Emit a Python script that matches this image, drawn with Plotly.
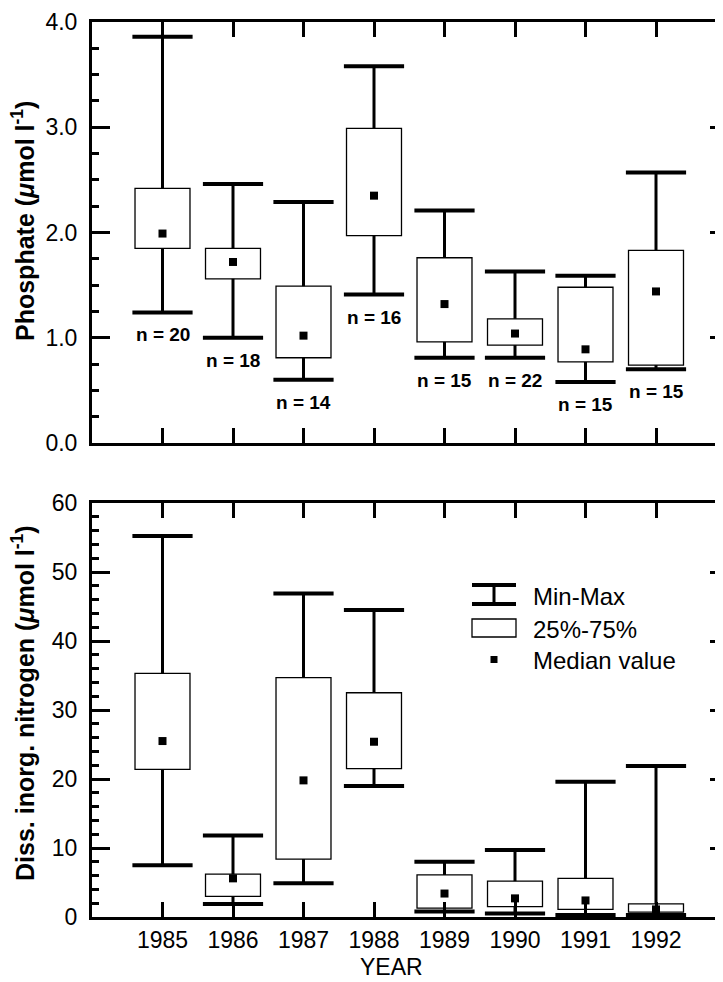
import plotly.graph_objects as go

# ---------------- data ----------------
years = [1985, 1986, 1987, 1988, 1989, 1990, 1991, 1992]

po4_min = [1.24, 1.00, 0.60, 1.41, 0.81, 0.81, 0.58, 0.70]
po4_q1 = [1.85, 1.56, 0.81, 1.97, 0.96, 0.93, 0.77, 0.74]
po4_med = [1.99, 1.72, 1.02, 2.35, 1.32, 1.04, 0.89, 1.44]
po4_q3 = [2.42, 1.85, 1.49, 2.99, 1.76, 1.18, 1.48, 1.83]
po4_max = [3.86, 2.46, 2.29, 3.58, 2.21, 1.63, 1.59, 2.57]
po4_n = [20, 18, 14, 16, 15, 22, 15, 15]

din_min = [7.5, 1.9, 4.9, 19.0, 0.8, 0.5, 0.3, 0.3]
din_q1 = [21.4, 3.0, 8.4, 21.5, 1.3, 1.5, 1.1, 0.7]
din_med = [25.5, 5.6, 19.8, 25.4, 3.4, 2.7, 2.4, 1.1]
din_q3 = [35.3, 6.2, 34.7, 32.5, 6.1, 5.2, 5.6, 1.9]
din_max = [55.2, 11.8, 46.9, 44.5, 8.0, 9.7, 19.6, 21.9]

year_labels = [str(y) for y in years]
legend_labels = ["Min-Max", "25%-75%", "Median value"]

# ---------------- layout geometry (page pixels) ----------------
OFF = 8                      # default body margin of the html page
W, H = 723 - OFF, 982
PL, PR, PT, PB = 92, 723, 22, 917   # plot area in page pixels


def px_x(px):
    return (px - PL) / (PR - PL)


def px_y(py):
    return (PB - py) / (PB - PT)


FONT = "Liberation Sans, Arial, Helvetica, sans-serif"
BOX_W = 0.78
CAP_PX = 43

fig = go.Figure()


def add_panel(xa, ya, mn, q1, med, q3, mx):
    # boxes (25%-75%)
    fig.add_trace(go.Bar(
        x=years, y=[b - a for a, b in zip(q1, q3)], base=q1, width=BOX_W,
        marker=dict(color="white", line=dict(color="black", width=1.3)),
        xaxis=xa, yaxis=ya, hoverinfo="skip", showlegend=False))
    # whiskers
    wx, wy = [], []
    for yr, a, b, c, d in zip(years, mn, q1, q3, mx):
        wx += [yr, yr, None, yr, yr, None]
        wy += [c, d, None, b, a, None]
    fig.add_trace(go.Scatter(
        x=wx, y=wy, mode="lines", line=dict(color="black", width=3),
        xaxis=xa, yaxis=ya, hoverinfo="skip", showlegend=False))
    # caps
    fig.add_trace(go.Scatter(
        x=years + years, y=mn + mx, mode="markers",
        marker=dict(symbol="line-ew", size=CAP_PX, line=dict(color="black", width=4)),
        xaxis=xa, yaxis=ya, hoverinfo="skip", showlegend=False))
    # medians
    fig.add_trace(go.Scatter(
        x=years, y=med, mode="markers",
        marker=dict(symbol="square", size=8, color="black", line=dict(width=0)),
        xaxis=xa, yaxis=ya, hoverinfo="skip", showlegend=False))


add_panel("x", "y", po4_min, po4_q1, po4_med, po4_q3, po4_max)
add_panel("x2", "y2", din_min, din_q1, din_med, din_q3, din_max)

# invisible traces to carry the right-hand tick axes
fig.add_trace(go.Scatter(x=[years[0]], y=[0], mode="markers", marker=dict(opacity=0),
                         xaxis="x", yaxis="y3", hoverinfo="skip", showlegend=False))
fig.add_trace(go.Scatter(x=[years[0]], y=[0], mode="markers", marker=dict(opacity=0),
                         xaxis="x2", yaxis="y4", hoverinfo="skip", showlegend=False))

xrange = [1984, 1984 + (PR - PL) / 70.5]
top_dom = [px_y(443), 1.0]
bot_dom = [0.0, px_y(503)]

common_x = dict(range=xrange, showline=True, linewidth=3, linecolor="black",
                mirror="ticks", ticks="inside", ticklen=15, tickwidth=3, tickcolor="black",
                tickvals=years, showgrid=False, zeroline=False, domain=[0, 1],
                tickfont=dict(family=FONT, size=23, color="black"))
common_y = dict(showline=True, linewidth=3, linecolor="black", mirror=False,
                ticks="inside", ticklen=18, tickwidth=3, tickcolor="black",
                showgrid=False, zeroline=False, ticklabelstandoff=7,
                tickfont=dict(family=FONT, size=23, color="black"))
right_y = dict(side="right", showline=False, ticks="inside", ticklen=13, tickwidth=3,
               tickcolor="black", showticklabels=False, showgrid=False, zeroline=False)

fig.update_layout(
    width=W, height=H,
    margin=dict(l=PL - OFF, r=W - (PR - OFF), t=PT - OFF, b=H - (PB - OFF), pad=0),
    paper_bgcolor="white", plot_bgcolor="white",
    showlegend=False, barmode="overlay",
    xaxis=dict(**common_x, anchor="y", showticklabels=False),
    xaxis2=dict(**common_x, anchor="y2", ticktext=year_labels),
    yaxis=dict(**common_y, domain=top_dom, anchor="x", range=[0, 4], dtick=1,
               tickformat=".1f",
               minor=dict(ticks="inside", ticklen=7, tickwidth=3, tickcolor="black", dtick=0.25)),
    yaxis2=dict(**common_y, domain=bot_dom, anchor="x2", range=[0, 60], dtick=10,
                minor=dict(ticks="inside", ticklen=7, tickwidth=3, tickcolor="black", dtick=2)),
    yaxis3=dict(**right_y, overlaying="y", anchor="x", range=[0, 4], dtick=1),
    yaxis4=dict(**right_y, overlaying="y2", anchor="x2", range=[0, 60], dtick=10),
)

# n labels under the minimum caps
for yr, mn, n in zip(years, po4_min, po4_n):
    fig.add_annotation(x=yr, y=mn, xref="x", yref="y", text=f"n = {n}",
                       showarrow=False, yanchor="top", yshift=-10,
                       font=dict(family=FONT, size=19, color="black", weight="bold"))

# axis titles
fig.add_annotation(x=px_x(23), y=px_y(221), xref="paper", yref="paper",
                   text="Phosphate (<i>μ</i>mol l<sup>-1</sup>)", textangle=-90,
                   showarrow=False, xanchor="center", yanchor="middle",
                   font=dict(family=FONT, size=25, color="black", weight="bold"))
fig.add_annotation(x=px_x(23), y=px_y(703), xref="paper", yref="paper",
                   text="Diss. inorg. nitrogen (<i>μ</i>mol l<sup>-1</sup>)", textangle=-90,
                   showarrow=False, xanchor="center", yanchor="middle",
                   font=dict(family=FONT, size=25, color="black", weight="bold"))
fig.add_annotation(x=px_x(391), y=px_y(967), xref="paper", yref="paper",
                   text="YEAR", showarrow=False, xanchor="center", yanchor="middle",
                   font=dict(family=FONT, size=23, color="black"))

# legend (drawn manually)
lx0, lx1, lxc = 472, 516, 494
shapes = [
    dict(type="line", x0=px_x(lx0), x1=px_x(lx1), y0=px_y(585), y1=px_y(585),
         line=dict(color="black", width=4)),
    dict(type="line", x0=px_x(lx0), x1=px_x(lx1), y0=px_y(604), y1=px_y(604),
         line=dict(color="black", width=4)),
    dict(type="line", x0=px_x(lxc), x1=px_x(lxc), y0=px_y(585), y1=px_y(604),
         line=dict(color="black", width=3)),
    dict(type="rect", x0=px_x(lx0), x1=px_x(lx1), y0=px_y(619), y1=px_y(637),
         line=dict(color="black", width=1.3), fillcolor="white"),
    dict(type="rect", x0=px_x(lxc - 3.5), x1=px_x(lxc + 3.5), y0=px_y(656), y1=px_y(663),
         line=dict(width=0), fillcolor="black"),
]
for s in shapes:
    s.update(xref="paper", yref="paper", layer="above")
fig.update_layout(shapes=shapes)

for lab, py in zip(legend_labels, [596, 629, 660]):
    fig.add_annotation(x=px_x(531), y=px_y(py), xref="paper", yref="paper",
                       text=lab, showarrow=False, xanchor="left", yanchor="middle",
                       font=dict(family=FONT, size=24, color="black"))

fig.write_html("out.html")
